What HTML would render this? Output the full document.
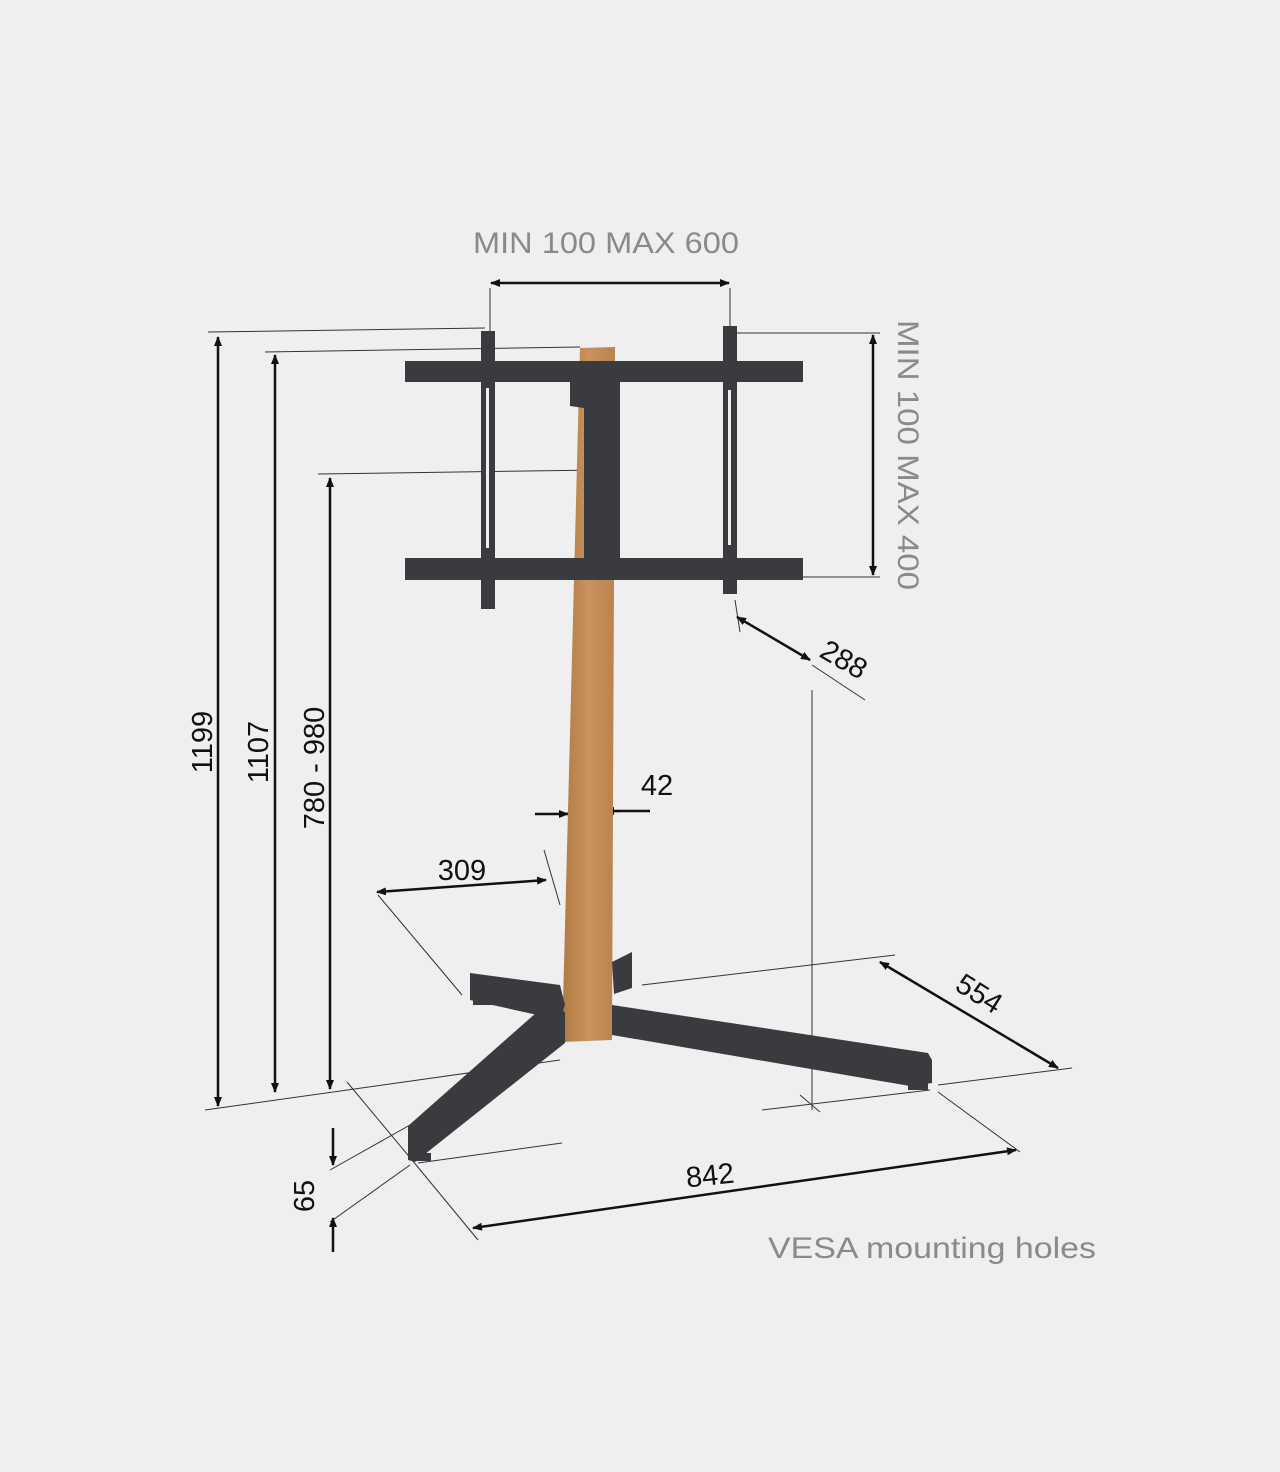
<!DOCTYPE html>
<html><head><style>
html,body{margin:0;padding:0;background:#efefef;}
svg{display:block;}
text{font-family:"Liberation Sans",sans-serif;}
</style></head><body>
<svg width="1280" height="1472" viewBox="0 0 1280 1472" xmlns="http://www.w3.org/2000/svg">
<defs>
<marker id="a" markerWidth="10" markerHeight="10" refX="9" refY="5" orient="auto-start-reverse" markerUnits="userSpaceOnUse" viewBox="0 0 10 10"><path d="M0,1 L10,5 L0,9 z" fill="#111"/></marker>
<linearGradient id="w" x1="0" x2="1"><stop offset="0" stop-color="#b07a45"/><stop offset="0.5" stop-color="#c8935d"/><stop offset="1" stop-color="#b98250"/></linearGradient>
</defs>
<rect width="1280" height="1472" fill="#efefef"/>
<g stroke="#333" stroke-width="1" fill="none">
<line x1="208" y1="332" x2="485" y2="328"/>
<line x1="265" y1="352" x2="580" y2="347"/>
<line x1="318" y1="474" x2="600" y2="470"/>
<line x1="205" y1="1110" x2="560" y2="1060"/>
<line x1="490" y1="288" x2="490" y2="332"/>
<line x1="730" y1="288" x2="730" y2="326"/>
<line x1="735" y1="333" x2="880" y2="333"/>
<line x1="738" y1="577" x2="880" y2="577"/>
<line x1="812" y1="690" x2="812" y2="1110"/>
<line x1="762" y1="1110" x2="930" y2="1090"/>
<line x1="800" y1="1095" x2="820" y2="1112"/>
<line x1="812" y1="665" x2="865" y2="700"/>
<line x1="735" y1="600" x2="740" y2="632"/>
<line x1="378" y1="895" x2="462" y2="995"/>
<line x1="544" y1="850" x2="560" y2="905"/>
<line x1="642" y1="985" x2="895" y2="955"/>
<line x1="938" y1="1085" x2="1072" y2="1068"/>
<line x1="938" y1="1092" x2="1020" y2="1152"/>
<line x1="347" y1="1082" x2="412" y2="1160"/>
<line x1="412" y1="1160" x2="478" y2="1240"/>
<line x1="418" y1="1163" x2="562" y2="1143"/>
<line x1="330" y1="1170" x2="410" y2="1125"/>
<line x1="330" y1="1222" x2="410" y2="1165"/>
<line x1="535" y1="814" x2="640" y2="811"/>
<line x1="605" y1="725" x2="605" y2="825"/>
</g>
<g stroke="#111" stroke-width="2.5" fill="none" marker-start="url(#a)" marker-end="url(#a)">
<line x1="491" y1="283" x2="729" y2="283"/>
<line x1="873" y1="335" x2="873" y2="575"/>
<line x1="218" y1="337" x2="218" y2="1106"/>
<line x1="275" y1="355" x2="275" y2="1092"/>
<line x1="330" y1="478" x2="330" y2="1089"/>
<line x1="737" y1="617" x2="810" y2="660"/>
<line x1="377" y1="892" x2="546" y2="880"/>
<line x1="880" y1="962" x2="1058" y2="1068"/>
<line x1="473" y1="1228" x2="1016" y2="1150"/>
</g>
<g stroke="#111" stroke-width="2.5" fill="none">
<line x1="535" y1="814" x2="568" y2="814" marker-end="url(#a)"/>
<line x1="650" y1="811" x2="605" y2="811" marker-end="url(#a)"/>
<line x1="333" y1="1128" x2="333" y2="1165" marker-end="url(#a)"/>
<line x1="333" y1="1252" x2="333" y2="1218" marker-end="url(#a)"/>
</g>
<polygon points="580,348 615,347 612,1040 562,1042" fill="url(#w)"/>
<g fill="#3a3b3f">
<polygon points="612,962 632,952 632,988 614,994"/>
<polygon points="470,973 560,985 565,1005 560,1020 470,1000"/>
<polygon points="612,1005 928,1053 932,1060 932,1083 910,1086 612,1035"/>
<polygon points="545,1005 565,1012 565,1043 415,1162 408,1160 408,1126"/>
<rect x="473" y="998" width="22" height="7"/>
<rect x="908" y="1083" width="20" height="7"/>
<rect x="413" y="1153" width="18" height="8"/>
</g>
<g fill="#3a3b3f">
<rect x="572" y="365" width="50" height="15"/>
<polygon points="570,380 584,380 584,408 570,406"/>
<rect x="584" y="380" width="36" height="165"/>
<rect x="405" y="361" width="398" height="21"/>
<rect x="405" y="558" width="398" height="22"/>
<rect x="584" y="540" width="36" height="20"/>
<rect x="481" y="331" width="14" height="278"/>
<rect x="723" y="326" width="14" height="268"/>
</g>
<g fill="#efefef">
<rect x="486" y="388" width="3" height="160"/>
<rect x="728" y="390" width="3" height="155"/>
</g>
<text x="606" y="253" font-size="30" fill="#8a8a8a" text-anchor="middle" textLength="266" lengthAdjust="spacingAndGlyphs">MIN 100 MAX 600</text>
<text transform="translate(898,455) rotate(90)" font-size="30" fill="#8a8a8a" text-anchor="middle" textLength="270" lengthAdjust="spacingAndGlyphs">MIN 100 MAX 400</text>
<text transform="translate(212,742) rotate(-90)" font-size="29" fill="#111" text-anchor="middle">1199</text>
<text transform="translate(268,752) rotate(-90)" font-size="29" fill="#111" text-anchor="middle">1107</text>
<text transform="translate(324,768) rotate(-90)" font-size="29" fill="#111" text-anchor="middle">780 - 980</text>
<text transform="translate(839,668) rotate(30)" font-size="29" fill="#111" text-anchor="middle">288</text>
<text x="657" y="795" font-size="29" fill="#111" text-anchor="middle">42</text>
<text x="462" y="880" font-size="29" fill="#111" text-anchor="middle">309</text>
<text transform="translate(974,1002) rotate(32)" font-size="29" fill="#111" text-anchor="middle">554</text>
<text transform="translate(711,1185) rotate(-6)" font-size="29" fill="#111" text-anchor="middle">842</text>
<text transform="translate(314,1196) rotate(-90)" font-size="29" fill="#111" text-anchor="middle">65</text>
<text x="768" y="1258" font-size="30" fill="#8a8a8a" textLength="328" lengthAdjust="spacingAndGlyphs">VESA mounting holes</text>
</svg>
</body></html>
